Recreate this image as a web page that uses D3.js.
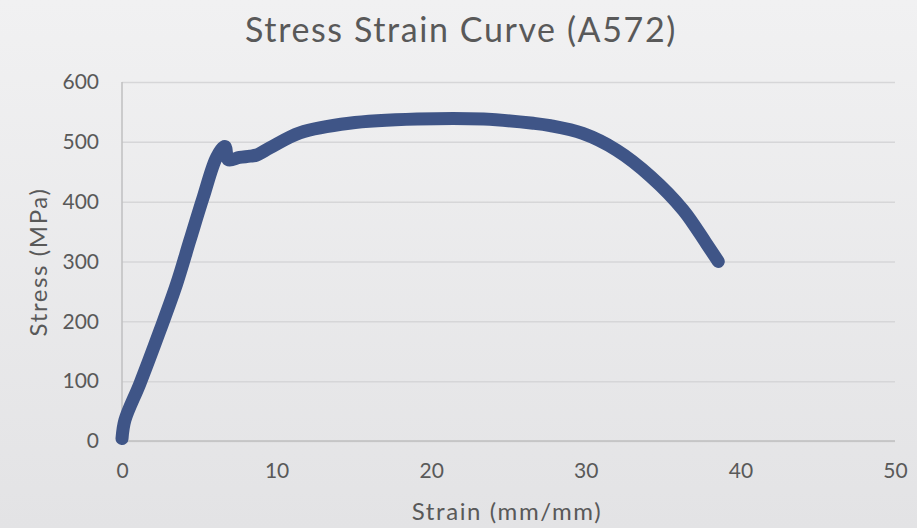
<!DOCTYPE html>
<html>
  <head>
    <title>Stress Strain Curve</title>
    <script src="https://cdn.jsdelivr.net/npm/d3@7"></script>
    <style>
      body { margin: 0; }
      text { font-family: "Lato", "Open Sans", sans-serif; fill: #595959; }
    </style>
  </head>
  <body>
    <svg width="917" height="528" id="mainsvg"></svg>
    <script>
        // values
        const strain = [0, 0.19, 1.16, 2.46, 3.54, 4.40, 5.26, 6.13, 6.66, 6.88, 7.6, 8.28, 8.71, 9.57, 11.5, 14.7, 19.1, 23.4, 26.6, 27.7, 29.8, 32.0, 34.2, 36.3, 37.8, 38.57];
        const stress = [4, 35, 96, 185, 263, 336, 408, 475, 492, 470, 474, 476, 478, 490, 515, 531, 538, 538, 531, 527, 514, 486, 442, 386, 330, 300];
        const xTicks = [0, 10, 20, 30, 40, 50];
        const yTicks = [0, 100, 200, 300, 400, 500, 600];
        const title = 'Stress Strain Curve (A572)';
        const xAxisLabel = 'Strain (mm/mm)';
        const yAxisLabel = 'Stress (MPa)';

        const svg = d3.select('#mainsvg');
        const width = +svg.attr('width');
        const height = +svg.attr('height');
        const margin = {top: 82, right: 22, bottom: 87, left: 122};
        const innerWidth = width - margin.left - margin.right;
        const innerHeight = height - margin.top - margin.bottom;

        // background: soft vertical gradient
        const defs = svg.append('defs');
        const bg = defs.append('linearGradient')
            .attr('id', 'bgGrad')
            .attr('x1', 0).attr('x2', 0).attr('y1', 0).attr('y2', 1);
        bg.append('stop').attr('offset', '0%').attr('stop-color', '#f1f1f2');
        bg.append('stop').attr('offset', '100%').attr('stop-color', '#e3e3e5');
        svg.append('rect')
            .attr('width', width).attr('height', height)
            .attr('fill', 'url(#bgGrad)');

        const xScale = d3.scaleLinear().domain([0, 50]).range([0, innerWidth]);
        const yScale = d3.scaleLinear().domain([0, 600]).range([innerHeight, 0]);

        const g = svg.append('g')
            .attr('transform', `translate(${margin.left}, ${margin.top})`);

        // gridlines + y tick labels
        const yAxis = d3.axisLeft(yScale)
            .tickValues(yTicks)
            .tickSize(-innerWidth)
            .tickPadding(23);
        const yAxisGroup = g.append('g').call(yAxis);
        yAxisGroup.select('.domain').remove();
        yAxisGroup.selectAll('.tick line')
            .attr('stroke', '#d6d6d8')
            .attr('stroke-width', 1.5);
        yAxisGroup.selectAll('.tick text')
            .attr('font-size', 21)
            .attr('font-family', null);

        // x tick labels
        const xAxis = d3.axisBottom(xScale)
            .tickValues(xTicks)
            .tickSize(0)
            .tickPadding(22);
        const xAxisGroup = g.append('g').call(xAxis)
            .attr('transform', `translate(0, ${innerHeight})`);
        xAxisGroup.select('.domain').remove();
        xAxisGroup.selectAll('.tick text')
            .attr('font-size', 21)
            .attr('font-family', null);

        // axis lines
        g.append('line')
            .attr('x1', 0).attr('x2', 0)
            .attr('y1', 0).attr('y2', innerHeight)
            .attr('stroke', '#bfbfc1').attr('stroke-width', 1.5);
        g.append('line')
            .attr('x1', 0).attr('x2', innerWidth)
            .attr('y1', innerHeight).attr('y2', innerHeight)
            .attr('stroke', '#bfbfc1').attr('stroke-width', 1.5);

        // the curve
        const data = strain.map((s, i) => ({x: s, y: stress[i]}));
        const line = d3.line()
            .curve(d3.curveCatmullRom.alpha(0.5))
            .x(d => xScale(d.x))
            .y(d => yScale(d.y));
        g.append('path')
            .datum(data)
            .attr('d', line)
            .attr('fill', 'none')
            .attr('stroke', '#3f5587')
            .attr('stroke-width', 13)
            .attr('stroke-linecap', 'round')
            .attr('stroke-linejoin', 'round');

        // titles
        svg.append('text')
            .attr('x', 461).attr('y', 42)
            .attr('text-anchor', 'middle')
            .attr('font-size', 34)
            .attr('letter-spacing', 1.6)
            .text(title);
        svg.append('text')
            .attr('x', 507).attr('y', 520)
            .attr('text-anchor', 'middle')
            .attr('font-size', 24)
            .attr('letter-spacing', 1.6)
            .text(xAxisLabel);
        svg.append('text')
            .attr('transform', 'rotate(-90)')
            .attr('x', -262).attr('y', 47)
            .attr('text-anchor', 'middle')
            .attr('font-size', 24)
            .attr('letter-spacing', 1.6)
            .text(yAxisLabel);
    </script>
  </body>
</html>
